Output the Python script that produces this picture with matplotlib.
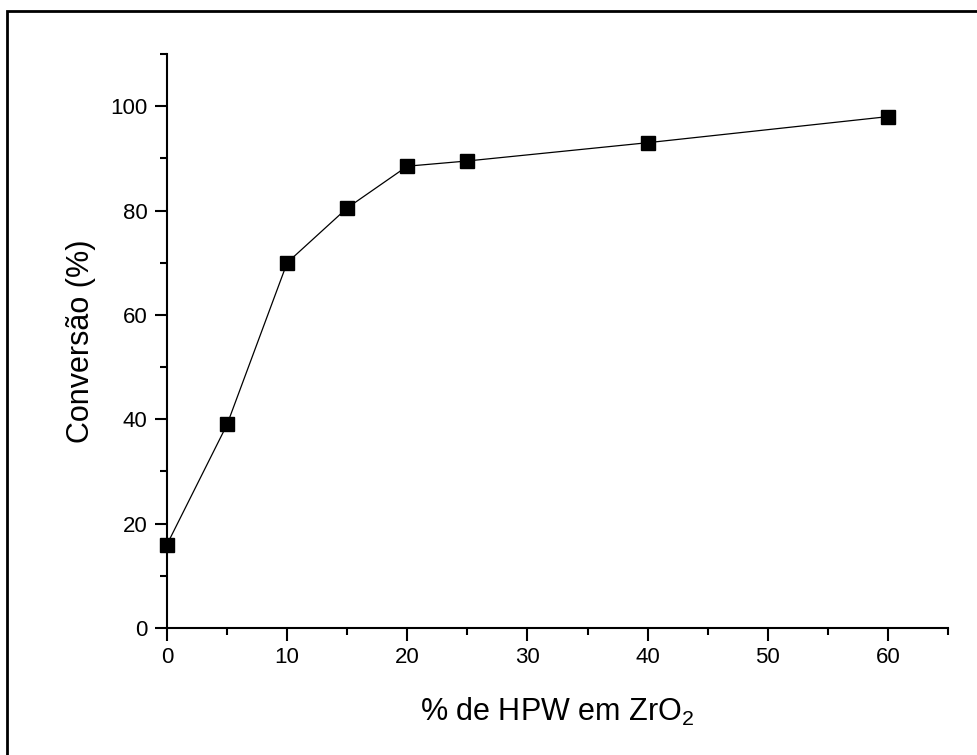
import matplotlib.pyplot as plt
from matplotlib.ticker import MultipleLocator
from matplotlib.patches import Rectangle

# data
hpw = [0, 5, 10, 15, 20, 25, 40, 60]
conversao = [16, 39, 70, 80.5, 88.5, 89.5, 93, 98]

plt.rcParams['font.family'] = ['Liberation Sans', 'DejaVu Sans']
plt.rcParams['mathtext.fontset'] = 'custom'
plt.rcParams['mathtext.rm'] = 'Liberation Sans'

fig = plt.figure(figsize=(9.78, 7.55), dpi=100)

# outer frame (only left and top edges visible in the original)
fig.patches.append(Rectangle((7 / 978, -0.1), 1.2, 1 - 11 / 755 + 0.1,
                             transform=fig.transFigure, fill=False,
                             edgecolor='black', linewidth=2))

ax = fig.add_axes([167 / 978, 127 / 755, 781 / 978, 574 / 755])
ax.plot(hpw, conversao, color='black', linewidth=0.9, marker='s',
        markersize=9.5, markerfacecolor='black', clip_on=False, zorder=3)

ax.set_xlim(0, 65)
ax.set_ylim(0, 110)
ax.xaxis.set_major_locator(MultipleLocator(10))
ax.xaxis.set_minor_locator(MultipleLocator(5))
ax.yaxis.set_major_locator(MultipleLocator(20))
ax.yaxis.set_minor_locator(MultipleLocator(10))

ax.spines['top'].set_visible(False)
ax.spines['right'].set_visible(False)
for s in ('left', 'bottom'):
    ax.spines[s].set_linewidth(1.5)

ax.tick_params(which='major', direction='out', length=9, width=1.5,
               labelsize=16, pad=5)
ax.tick_params(which='minor', direction='out', length=5, width=1.5)

ax.set_xlabel('% de HPW em ZrO$_\\mathregular{2}$', fontsize=22, labelpad=20)
ax.set_ylabel('Conversão (%)', fontsize=22, labelpad=10)

fig.savefig('out.png', dpi=100)
